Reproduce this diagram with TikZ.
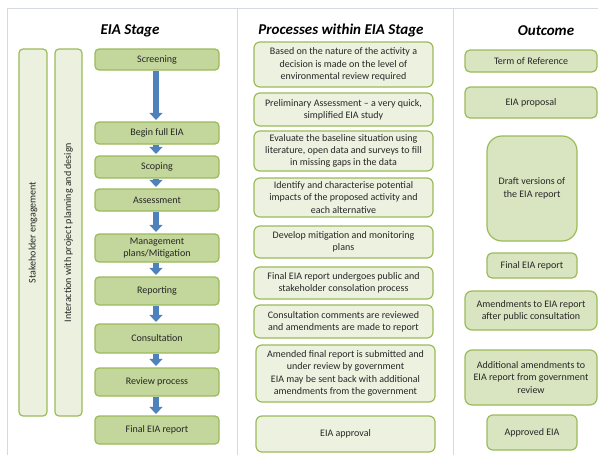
\documentclass[tikz,border=0pt]{standalone}
\usepackage{fontspec}
\setmainfont{Carlito}
\usetikzlibrary{arrows.meta}
\definecolor{eiaedge}{HTML}{9BBB59}
\definecolor{eiastep}{HTML}{C3D69B}
\definecolor{eiapale}{HTML}{EDF2E0}
\definecolor{eiaout}{HTML}{D9E5C1}
\definecolor{eiabar}{HTML}{EBF1DE}
\definecolor{eiablue}{HTML}{4F81BD}
\definecolor{eiarule}{HTML}{D5DAE0}
\definecolor{eiatext}{HTML}{262626}

\begin{document}
\begin{tikzpicture}[x=1pt, y=-1pt, font=\fontsize{10}{12.3}\selectfont, text=eiatext,
    stg/.style={draw=eiaedge, fill=eiastep, line width=1.2pt, rounded corners=4pt,
                align=center, inner sep=1pt, minimum width=124pt},
    prc/.style={draw=eiaedge, fill=eiapale, line width=1.2pt, rounded corners=6pt,
                align=center, inner sep=1pt, minimum width=179pt},
    res/.style={draw=eiaedge, fill=eiaout, line width=1.2pt, rounded corners=5pt,
                align=center, inner sep=1pt},
    bar/.style={draw=eiaedge, fill=eiabar, line width=1.2pt, rounded corners=4pt,
                minimum height=367pt, inner sep=0pt},
    ttl/.style={font=\fontsize{15}{17}\selectfont\bfseries\itshape, text=black},
    blk/.style={draw=eiablue, line width=5.5pt, shorten >=1.5pt,
                -{Triangle[width=13pt, length=7pt]}}]
    \useasboundingbox (0,0) rectangle (598,455);
    % frame and column rules
    \draw[eiarule, line width=1pt] (7,455) -- (7,8) -- (598,8);
    \draw[eiarule, line width=1pt] (237,9) -- (237,455);
    \draw[eiarule, line width=1pt] (453,9) -- (453,455);
    % headings
    \node[ttl] (hstage) at (130,31) {EIA Stage};
    \node[ttl] (hproc) at (341,31) {Processes within EIA Stage};
    \node[ttl] (hout) at (546,31) {Outcome};
    % side bars
    \node[bar, minimum width=28pt] (stake) at (33,232.5) {};
    \node[rotate=90] at (stake.center) {Stakeholder engagement};
    \node[bar, minimum width=27pt] (inter) at (68.5,232.5) {};
    \node[rotate=90] at (inter.center) {Interaction with project planning and design};
    % EIA stages
    \node[stg, minimum height=21pt] (scr) at (157,59.5) {Screening};
    \node[stg, minimum height=22pt] (bfe) at (157,133) {Begin full EIA};
    \node[stg, minimum height=22pt] (scp) at (157,167) {Scoping};
    \node[stg, minimum height=22pt] (ass) at (157,200) {Assessment};
    \node[stg, minimum height=28pt] (mgt) at (157,248) {Management\\plans/Mitigation};
    \node[stg, minimum height=28pt] (rep) at (157,291) {Reporting};
    \node[stg, minimum height=29pt] (con) at (157,338.5) {Consultation};
    \node[stg, minimum height=28pt] (rev) at (157,382) {Review process};
    \node[stg, minimum height=28pt] (fin) at (157,430) {Final EIA report};
    \foreach \a/\b in {scr/bfe, bfe/scp, scp/ass, ass/mgt, mgt/rep, rep/con, con/rev, rev/fin}
      \draw[blk] ([xshift=-1pt]\a.south) -- ([xshift=-1pt]\b.north);
    % processes
    \node[prc, minimum height=45pt] (p1) at (343.5,64.5)
      {Based on the nature of the activity a\\decision is made on the level of\\environmental review required};
    \node[prc, minimum height=33pt] (p2) at (343.5,109.5)
      {Preliminary Assessment -- a very quick,\\simplified\ EIA\ study};
    \node[prc, minimum height=40pt] (p3) at (343.5,151)
      {Evaluate the baseline situation using\\literature, open data and surveys to fill\\in missing gaps in the data};
    \node[prc, minimum height=39pt] (p4) at (343.5,197.5)
      {Identify and characterise potential\\impacts of the proposed activity and\\each alternative};
    \node[prc, minimum height=32pt] (p5) at (343.5,242)
      {Develop mitigation and monitoring\\plans};
    \node[prc, minimum height=32pt] (p6) at (343.5,283)
      {Final EIA report undergoes public and\\stakeholder consolation process};
    \node[prc, minimum height=33pt] (p7) at (343.5,321.5)
      {Consultation comments are reviewed\\and amendments are made to report};
    \node[prc, minimum height=57pt] (p8) at (345.5,373.5)
      {Amended final report is submitted and\\under review by government\\EIA may be sent back with additional\\amendments from the government};
    \node[prc, minimum height=36pt] (p9) at (345.5,434) {EIA approval};
    % outcomes
    \node[res, minimum width=132pt, minimum height=22pt] (o1) at (531,61) {Term of Reference};
    \node[res, minimum width=132pt, minimum height=31pt] (o2) at (531,102.5) {EIA proposal};
    \node[res, minimum width=90pt, minimum height=105pt, rounded corners=15pt] (o3) at (532,188.5)
      {Draft versions of\\the EIA report};
    \node[res, minimum width=90pt, minimum height=25pt] (o4) at (532,265.5) {Final EIA report};
    \node[res, minimum width=132pt, minimum height=39pt, rounded corners=7pt] (o5) at (531,310.5)
      {Amendments to EIA report\\after public consultation};
    \node[res, minimum width=132pt, minimum height=55pt, rounded corners=7pt] (o6) at (531,377.5)
      {Additional amendments to\\EIA report from government\\review};
    \node[res, minimum width=90pt, minimum height=35pt, rounded corners=6pt] (o7) at (532,432.5) {Approved EIA};
\end{tikzpicture}
\end{document}
